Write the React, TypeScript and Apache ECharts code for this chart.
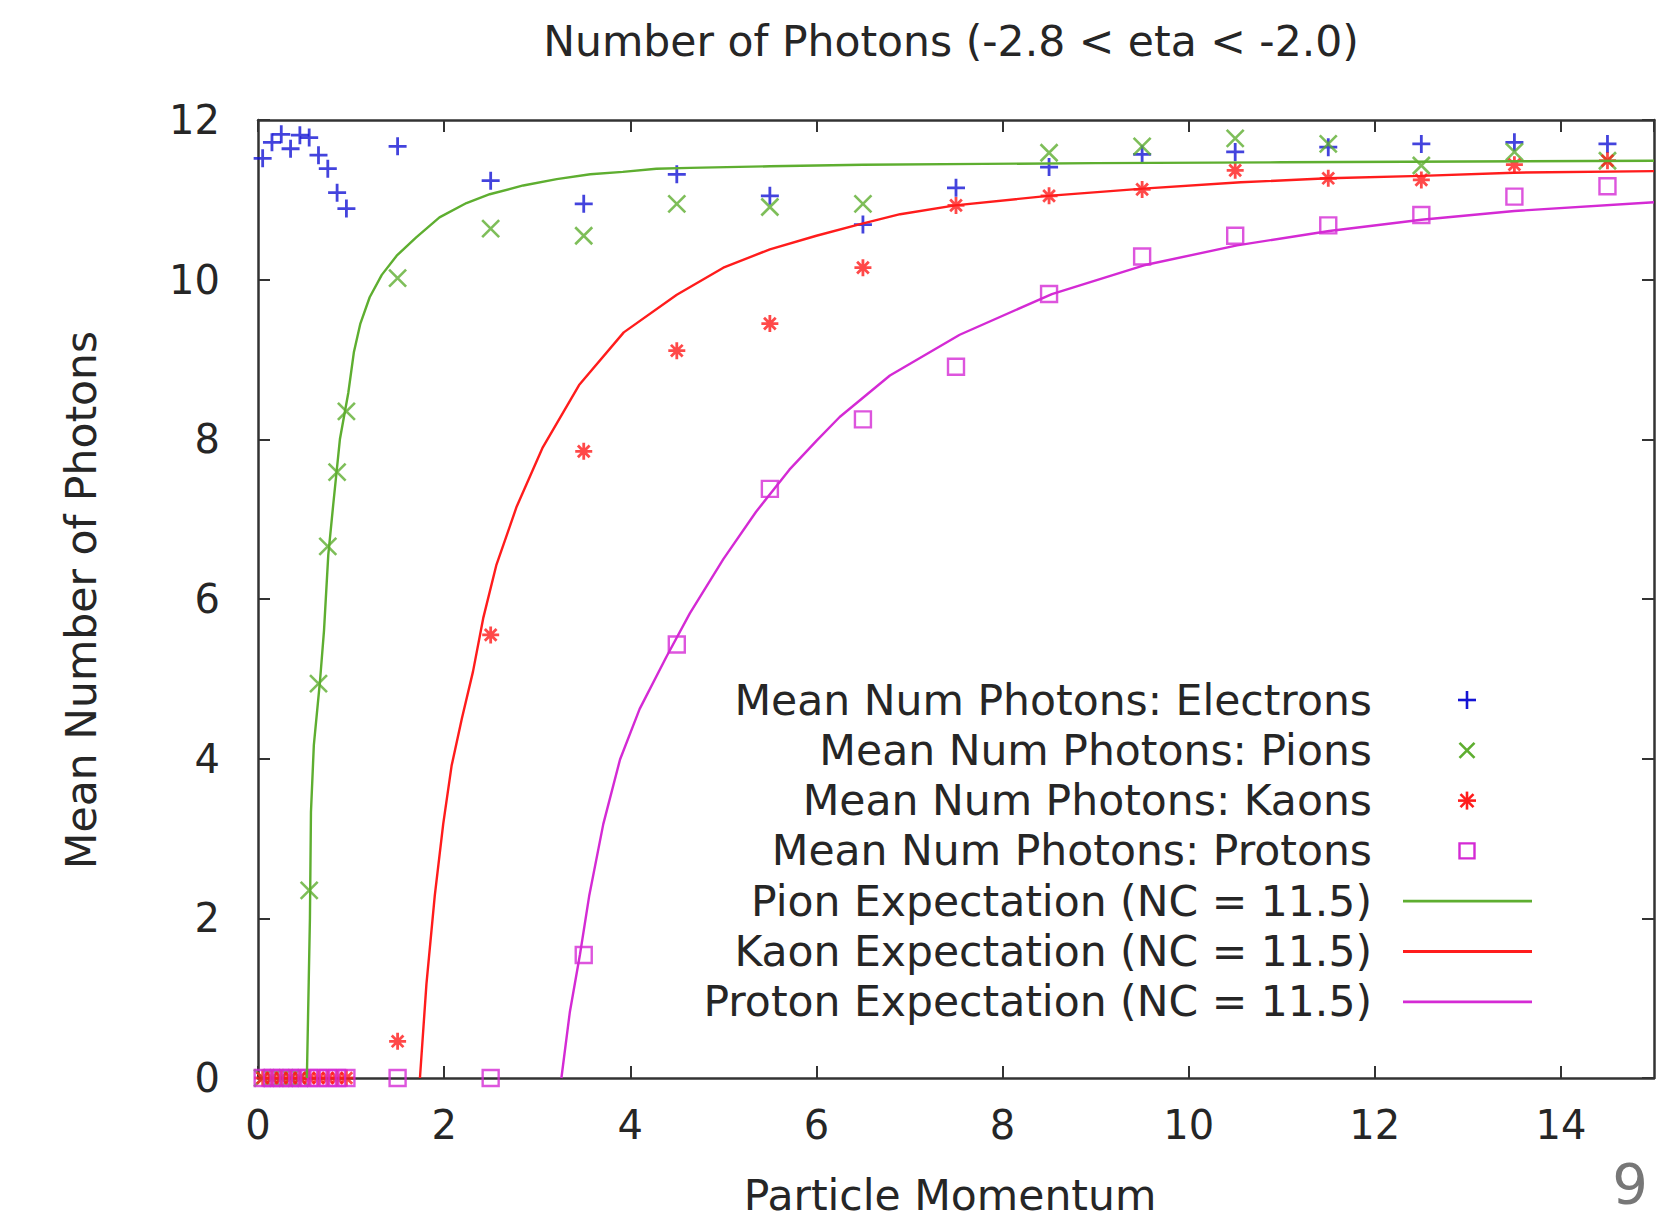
import React, { useEffect, useRef } from 'react';
import * as echarts from 'echarts';

// ---------- data ----------
const lowMomenta = [0.05, 0.15, 0.25, 0.35, 0.45, 0.55, 0.65, 0.75, 0.85, 0.95];
const highMomenta = [1.5, 2.5, 3.5, 4.5, 5.5, 6.5, 7.5, 8.5, 9.5, 10.5, 11.5, 12.5, 13.5, 14.5];

const electronLow = [11.52, 11.72, 11.82, 11.64, 11.81, 11.78, 11.56, 11.39, 11.09, 10.89];
const electronHigh = [11.67, 11.24, 10.95, 11.32, 11.05, 10.69, 11.15, 11.41, 11.57, 11.6, 11.66, 11.7, 11.72, 11.7];

const pionLow = [0, 0, 0, 0, 0, 2.35, 4.94, 6.66, 7.59, 8.35];
const pionHigh = [10.02, 10.64, 10.55, 10.95, 10.91, 10.95, null, 11.59, 11.67, 11.77, 11.7, 11.43, 11.6, 11.49];

const kaonLow = [0, 0, 0, 0, 0, 0, 0, 0, 0, 0];
const kaonHigh = [0.46, 5.55, 7.85, 9.11, 9.45, 10.15, 10.93, 11.05, 11.13, 11.37, 11.27, 11.25, 11.44, 11.49];

const protonLow = [0, 0, 0, 0, 0, 0, 0, 0, 0, 0];
const protonHigh = [0, 0, 1.54, 5.43, 7.38, 8.25, 8.91, 9.82, 10.29, 10.55, 10.68, 10.81, 11.04, 11.17];

const pionCurveX = [0.525, 0.545, 0.558, 0.569, 0.6, 0.666, 0.709, 0.755, 0.809, 0.88, 0.97, 1.03, 1.1, 1.2, 1.33, 1.49, 1.7, 1.95, 2.24, 2.49, 2.85, 3.21, 3.57, 3.92, 4.28, 4.64, 5.5, 6.5, 7.8, 9.0, 11.0, 13.0, 15.0];
const pionCurveY = [0, 1.2, 2.0, 3.33, 4.17, 4.97, 5.6, 6.55, 7.19, 8.0, 8.58, 9.09, 9.45, 9.78, 10.06, 10.3, 10.53, 10.78, 10.96, 11.07, 11.18, 11.26, 11.32, 11.35, 11.39, 11.4, 11.42, 11.44, 11.45, 11.46, 11.47, 11.48, 11.49];

const kaonCurveX = [1.74, 1.81, 1.9, 1.99, 2.08, 2.19, 2.31, 2.42, 2.56, 2.78, 3.06, 3.45, 3.93, 4.5, 5.0, 5.5, 6.0, 6.45, 6.9, 7.49, 8.49, 9.51, 10.56, 11.5, 12.5, 13.49, 15.0];
const kaonCurveY = [0, 1.18, 2.29, 3.18, 3.91, 4.5, 5.09, 5.76, 6.42, 7.16, 7.9, 8.68, 9.34, 9.81, 10.15, 10.38, 10.55, 10.69, 10.82, 10.93, 11.05, 11.14, 11.22, 11.27, 11.3, 11.34, 11.36];

const protonCurveX = [3.26, 3.35, 3.46, 3.56, 3.71, 3.89, 4.1, 4.39, 4.64, 5.0, 5.35, 5.71, 6.0, 6.25, 6.79, 7.54, 8.53, 9.52, 10.52, 11.51, 12.5, 13.5, 15.0];
const protonCurveY = [0, 0.82, 1.55, 2.29, 3.18, 3.99, 4.62, 5.28, 5.82, 6.5, 7.09, 7.62, 7.98, 8.28, 8.8, 9.31, 9.82, 10.18, 10.43, 10.61, 10.75, 10.86, 10.97];

const xTicks = { min: 0, max: 15, interval: 2 };
const yTicks = { min: 0, max: 12, interval: 2 };

const titleText = 'Number of Photons (-2.8 < eta < -2.0)';
const xName = 'Particle Momentum';
const yName = 'Mean Number of Photons';
const legendLabels = [
  'Mean Num Photons: Electrons',
  'Mean Num Photons: Pions',
  'Mean Num Photons: Kaons',
  'Mean Num Photons: Protons',
  'Pion Expectation (NC = 11.5)',
  'Kaon Expectation (NC = 11.5)',
  'Proton Expectation (NC = 11.5)',
];
const pageNumber = '9';

// ---------- styling ----------
const FONT = '"DejaVu Sans", "Noto Sans", sans-serif';
const TEXT = '#262626';
const FRAME = '#333333';
const BLUE = '#1414d4';
const GREEN = '#5eae30';
const RED = '#ff1c1c';
const MAGENTA = '#d42ad4';

const PLUS = 'path://M0,8L16,8M8,0L8,16';
const CROSS = 'path://M1,1L15,15M1,15L15,1';
const STAR = 'path://M0,8L16,8M8,0L8,16M2.5,2.5L13.5,13.5M2.5,13.5L13.5,2.5';

function pairs(xs: number[], ys: (number | null)[]) {
  const out: number[][] = [];
  xs.forEach((x, i) => {
    const y = ys[i];
    if (y !== null && y !== undefined) out.push([x, y]);
  });
  return out;
}

const axisLineStyle = { show: true, onZero: false, lineStyle: { color: FRAME, width: 2.5 } };
const axisTickStyle = { show: true, inside: true, length: 12, lineStyle: { color: FRAME, width: 2 } };

function legendGraphics() {
  const els: any[] = [];
  const textRight = 1372;
  const markX = 1467;
  const lineX1 = 1403;
  const lineX2 = 1532;
  const y0 = 700;
  const dy = 50.3;
  legendLabels.forEach((label, i) => {
    const y = y0 + i * dy;
    els.push({
      type: 'text',
      x: textRight,
      y,
      style: {
        text: label,
        fontSize: 42.5,
        fontFamily: FONT,
        fill: TEXT,
        align: 'right',
        verticalAlign: 'middle',
        textAlign: 'right',
        textVerticalAlign: 'middle',
      },
    });
  });
  const h = 9;
  const seg = (x1: number, y1: number, x2: number, y2: number, color: string, w = 2.6) => ({
    type: 'line',
    shape: { x1, y1, x2, y2 },
    style: { stroke: color, lineWidth: w },
  });
  // electrons +
  let y = y0;
  els.push(seg(markX - h, y, markX + h, y, BLUE), seg(markX, y - h, markX, y + h, BLUE));
  // pions x
  y = y0 + dy;
  const d = 7.5;
  els.push(seg(markX - d, y - d, markX + d, y + d, GREEN), seg(markX - d, y + d, markX + d, y - d, GREEN));
  // kaons *
  y = y0 + 2 * dy;
  els.push(
    seg(markX - h, y, markX + h, y, RED),
    seg(markX, y - h, markX, y + h, RED),
    seg(markX - 6.5, y - 6.5, markX + 6.5, y + 6.5, RED),
    seg(markX - 6.5, y + 6.5, markX + 6.5, y - 6.5, RED)
  );
  // protons square
  y = y0 + 3 * dy;
  els.push({
    type: 'rect',
    shape: { x: markX - 7.5, y: y - 7.5, width: 15, height: 15 },
    style: { fill: 'none', stroke: MAGENTA, lineWidth: 2.4 },
  });
  els.push(seg(lineX1, y0 + 4 * dy, lineX2, y0 + 4 * dy, GREEN, 2.8));
  els.push(seg(lineX1, y0 + 5 * dy, lineX2, y0 + 5 * dy, RED, 2.8));
  els.push(seg(lineX1, y0 + 6 * dy, lineX2, y0 + 6 * dy, MAGENTA, 2.8));
  return els;
}

function buildOption(): any {
  return {
    animation: false,
    backgroundColor: '#ffffff',
    grid: { left: 258, right: 22, top: 120, bottom: 142, containLabel: false, outerBoundsMode: 'none' },
    xAxis: [
      {
        type: 'value',
        ...xTicks,
        position: 'bottom',
        axisLine: axisLineStyle,
        axisTick: axisTickStyle,
        axisLabel: { show: true, margin: 27, fontSize: 40, fontFamily: FONT, color: TEXT, showMaxLabel: false },
        splitLine: { show: false },
      },
      {
        type: 'value',
        ...xTicks,
        position: 'top',
        axisLine: axisLineStyle,
        axisTick: axisTickStyle,
        axisLabel: { show: false },
        splitLine: { show: false },
      },
    ],
    yAxis: [
      {
        type: 'value',
        ...yTicks,
        position: 'left',
        axisLine: axisLineStyle,
        axisTick: axisTickStyle,
        axisLabel: { show: true, margin: 38, fontSize: 40, fontFamily: FONT, color: TEXT },
        splitLine: { show: false },
      },
      {
        type: 'value',
        ...yTicks,
        position: 'right',
        axisLine: axisLineStyle,
        axisTick: axisTickStyle,
        axisLabel: { show: false },
        splitLine: { show: false },
      },
    ],
    series: [
      {
        name: legendLabels[0],
        type: 'scatter',
        data: pairs(lowMomenta, electronLow).concat(pairs(highMomenta, electronHigh)),
        symbol: PLUS,
        symbolSize: 18,
        itemStyle: { color: BLUE, borderColor: BLUE, borderWidth: 2.8 },
        silent: true,
        z: 3,
      },
      {
        name: legendLabels[1],
        type: 'scatter',
        data: pairs(lowMomenta, pionLow).concat(pairs(highMomenta, pionHigh)),
        symbol: CROSS,
        symbolSize: 17,
        itemStyle: { color: GREEN, borderColor: GREEN, borderWidth: 2.6 },
        silent: true,
        z: 3,
      },
      {
        name: legendLabels[2],
        type: 'scatter',
        data: pairs(lowMomenta, kaonLow).concat(pairs(highMomenta, kaonHigh)),
        symbol: STAR,
        symbolSize: 17,
        itemStyle: { color: RED, borderColor: RED, borderWidth: 2.8 },
        silent: true,
        z: 3,
      },
      {
        name: legendLabels[3],
        type: 'scatter',
        data: pairs(lowMomenta, protonLow).concat(pairs(highMomenta, protonHigh)),
        symbol: 'rect',
        symbolSize: 16,
        itemStyle: { color: 'rgba(0,0,0,0)', borderColor: MAGENTA, borderWidth: 2.4 },
        silent: true,
        z: 3,
      },
      {
        name: legendLabels[4],
        type: 'line',
        data: pairs(pionCurveX, pionCurveY),
        showSymbol: false,
        symbol: 'none',
        lineStyle: { color: GREEN, width: 2.4 },
        silent: true,
        z: 4,
      },
      {
        name: legendLabels[5],
        type: 'line',
        data: pairs(kaonCurveX, kaonCurveY),
        showSymbol: false,
        symbol: 'none',
        lineStyle: { color: RED, width: 2.4 },
        silent: true,
        z: 4,
      },
      {
        name: legendLabels[6],
        type: 'line',
        data: pairs(protonCurveX, protonCurveY),
        showSymbol: false,
        symbol: 'none',
        lineStyle: { color: MAGENTA, width: 2.4 },
        silent: true,
        z: 4,
      },
    ],
    graphic: [
      {
        type: 'text',
        x: 951,
        y: 41,
        style: {
          text: titleText,
          fontSize: 42.5,
          fontFamily: FONT,
          fill: TEXT,
          align: 'center',
          verticalAlign: 'middle',
          textAlign: 'center',
          textVerticalAlign: 'middle',
        },
      },
      {
        type: 'text',
        x: 950,
        y: 1195,
        style: {
          text: xName,
          fontSize: 42.5,
          fontFamily: FONT,
          fill: TEXT,
          align: 'center',
          verticalAlign: 'middle',
          textAlign: 'center',
          textVerticalAlign: 'middle',
        },
      },
      {
        type: 'text',
        x: 81,
        y: 600,
        rotation: Math.PI / 2,
        style: {
          text: yName,
          fontSize: 42.5,
          fontFamily: FONT,
          fill: TEXT,
          align: 'center',
          verticalAlign: 'middle',
          textAlign: 'center',
          textVerticalAlign: 'middle',
        },
      },
      {
        type: 'text',
        x: 1630,
        y: 1183,
        style: {
          text: pageNumber,
          fontSize: 56,
          fontFamily: FONT,
          fill: '#777777',
          align: 'center',
          verticalAlign: 'middle',
          textAlign: 'center',
          textVerticalAlign: 'middle',
        },
      },
      ...legendGraphics(),
    ],
  };
}

export default function App() {
  const ref = useRef<HTMLDivElement>(null);
  useEffect(() => {
    if (!ref.current) return;
    const chart = echarts.init(ref.current, null, { renderer: 'svg' });
    chart.setOption(buildOption());
    return () => chart.dispose();
  }, []);
  return (
    <div
      ref={ref}
      style={{ position: 'fixed', left: 0, top: 0, width: 1676, height: 1220, background: '#ffffff' }}
    />
  );
}
